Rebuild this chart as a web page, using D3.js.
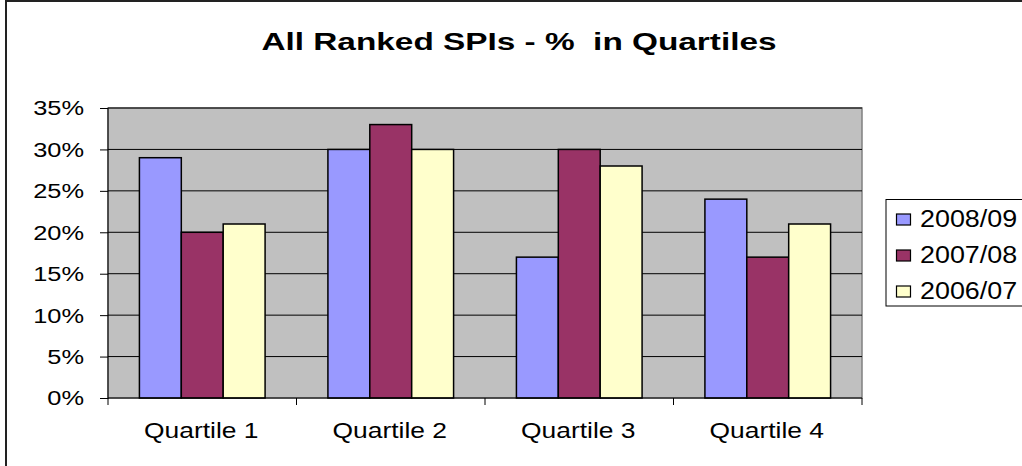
<!DOCTYPE html>
<html>
<head>
<meta charset="utf-8">
<script src="https://cdn.jsdelivr.net/npm/d3@7"></script>
<style>
  body { margin: 0; background: #fff; }
  svg { display: block; font-family: Arial, "Liberation Sans", sans-serif; }
</style>
</head>
<body>
<div id="the_chart"></div>
<script>
// data
let categories = ["Quartile 1", "Quartile 2", "Quartile 3", "Quartile 4"];
let series = ["2008/09", "2007/08", "2006/07"];
let v2008_09 = [0.29, 0.30, 0.17, 0.24];
let v2007_08 = [0.20, 0.33, 0.30, 0.17];
let v2006_07 = [0.21, 0.30, 0.28, 0.21];
let y_ticks = [0, 0.05, 0.10, 0.15, 0.20, 0.25, 0.30, 0.35];
let colors = ["#9999ff", "#993366", "#ffffcc"];

let values = [v2008_09, v2007_08, v2006_07];

function gen_vis() {
    var w = 1022;
    var h = 466;
    var left = 108, right = 862, top = 108, bottom = 398;

    var svg = d3.select("#the_chart").append("svg")
        .attr("width", w)
        .attr("height", h);

    // outer chart frame (cut at right/bottom like the picture)
    svg.append("path")
        .attr("d", "M6," + (h + 5) + " V1 H" + (w + 5))
        .attr("fill", "none")
        .attr("stroke", "#222")
        .attr("stroke-width", 2);

    // text in the picture is stretched sideways
    function stretch(sel, sx) {
        sel.each(function() {
            var t = d3.select(this);
            var x = +t.attr("x"), y = +t.attr("y");
            t.attr("x", 0).attr("y", 0)
             .attr("transform", "translate(" + x + "," + y + ") scale(" + sx + ",1)");
        });
    }

    svg.append("text")
        .attr("x", 519).attr("y", 50)
        .attr("text-anchor", "middle")
        .attr("font-size", 24)
        .attr("font-weight", "bold")
        .attr("xml:space", "preserve")
        .text("All Ranked SPIs - %  in Quartiles")
        .call(stretch, 1.39);

    var xscale = d3.scaleBand()
        .domain(categories)
        .range([left, right]);
    var xinner = d3.scaleBand()
        .domain(series)
        .range([0, xscale.bandwidth()])
        .paddingInner(0)
        .paddingOuter(0.75);
    var yscale = d3.scaleLinear()
        .domain([0, 0.35])
        .range([bottom, top]);

    // plot area
    svg.append("rect")
        .attr("x", left).attr("y", top)
        .attr("width", right - left).attr("height", bottom - top)
        .attr("fill", "#c0c0c0")
        .attr("stroke", "#808080")
        .attr("stroke-width", 1.5);

    // gridlines
    svg.selectAll("line.grid")
        .data(y_ticks.slice(1))
        .enter().append("line")
        .attr("class", "grid")
        .attr("x1", left).attr("x2", right)
        .attr("y1", function(d) { return yscale(d); })
        .attr("y2", function(d) { return yscale(d); })
        .attr("stroke", "#000")
        .attr("stroke-width", 1);

    // bars
    var groups = svg.selectAll("g.series")
        .data(series)
        .enter().append("g")
        .attr("class", "series")
        .attr("fill", function(d, i) { return colors[i]; });
    groups.selectAll("rect")
        .data(function(s, i) {
            return categories.map(function(c, j) { return { cat: c, ser: s, val: values[i][j] }; });
        })
        .enter().append("rect")
        .attr("x", function(d) { return xscale(d.cat) + xinner(d.ser); })
        .attr("width", xinner.bandwidth())
        .attr("y", function(d) { return yscale(d.val); })
        .attr("height", function(d) { return bottom - yscale(d.val); })
        .attr("stroke", "#000")
        .attr("stroke-width", 1.5);

    // y axis
    var yaxis = d3.axisLeft(yscale)
        .tickValues(y_ticks)
        .tickSize(8)
        .tickPadding(0)
        .tickFormat(d3.format(".0%"));
    var gy = svg.append("g")
        .attr("transform", "translate(" + left + ",0)")
        .call(yaxis);
    gy.select(".domain").attr("stroke", "#000").attr("d", "M0," + top + "V" + (bottom + 1));
    gy.selectAll(".tick line").attr("stroke", "#000");
    gy.selectAll(".tick text")
        .attr("font-size", 20)
        .attr("font-family", "Arial, 'Liberation Sans', sans-serif")
        .attr("fill", "#000")
        .attr("dy", null)
        .attr("dominant-baseline", "central")
        .attr("x", -24)
        .attr("y", 0)
        .call(stretch, 1.27);

    // x axis
    var xaxis = d3.axisBottom(xscale).tickSize(0).tickPadding(0);
    var gx = svg.append("g")
        .attr("transform", "translate(0," + bottom + ")")
        .call(xaxis);
    gx.select(".domain").attr("stroke", "#000").attr("d", "M" + left + ",0H" + right);
    gx.selectAll(".tick text")
        .attr("font-size", 22)
        .attr("font-family", "Arial, 'Liberation Sans', sans-serif")
        .attr("fill", "#000")
        .attr("dy", null)
        .attr("x", -1)
        .attr("y", 40)
        .call(stretch, 1.2);
    // category boundary ticks
    var bounds = categories.map(function(c) { return xscale(c); }).concat([right]);
    gx.selectAll("line.bt")
        .data(bounds)
        .enter().append("line")
        .attr("class", "bt")
        .attr("x1", function(d) { return d; })
        .attr("x2", function(d) { return d; })
        .attr("y1", 0).attr("y2", 7)
        .attr("stroke", "#000");

    // legend
    var lg = svg.append("g");
    lg.append("rect")
        .attr("x", 886).attr("y", 199.5)
        .attr("width", 145).attr("height", 106.5)
        .attr("fill", "#fff")
        .attr("stroke", "#000");
    var items = lg.selectAll("g.item")
        .data(series)
        .enter().append("g")
        .attr("class", "item")
        .attr("transform", function(d, i) { return "translate(0," + (219.5 + i * 36) + ")"; });
    items.append("rect")
        .attr("x", 896.5).attr("y", -5.5)
        .attr("width", 14).attr("height", 11)
        .attr("fill", function(d, i) { return colors[i]; })
        .attr("stroke", "#000")
        .attr("stroke-width", 1.2);
    items.append("text")
        .attr("x", 920).attr("y", 7.5)
        .attr("font-size", 24)
        .attr("fill", "#000")
        .text(function(d) { return d; })
        .call(stretch, 1.12);
}

gen_vis();
</script>
</body>
</html>
